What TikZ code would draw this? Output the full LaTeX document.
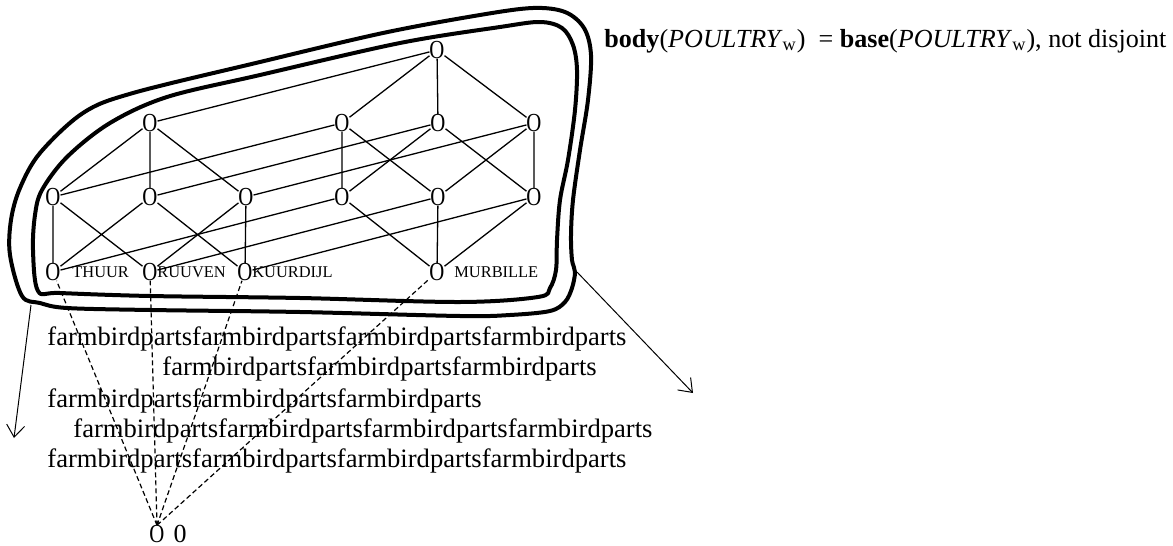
\documentclass[tikz,border=0pt]{standalone}
\usepackage{fontspec}
\setmainfont{Liberation Serif}
\usepackage{graphicx}
\usetikzlibrary{arrows.meta}
\newcommand{\vO}{\scalebox{0.8}[1]{O}}
\tikzset{
  vert/.style={inner sep=0pt, outer sep=0pt, font=\fontsize{13}{13}\selectfont},
  lab/.style={anchor=base west, inner sep=0pt, font=\fontsize{8.2}{9}\selectfont},
  edgeline/.style={line width=0.65pt},
  dashline/.style={line width=0.6pt, dash pattern=on 2.5pt off 1.5pt},
  blob/.style={line width=2pt, line join=round},
  arr/.style={line width=0.5pt, -{Straight Barb[length=6pt,width=9pt]}},
  txt/.style={anchor=base west, inner sep=0pt, font=\fontsize{13.3}{16}\selectfont},
}
\begin{document}
\begin{tikzpicture}[x=0.5pt, y=-0.5pt]
\useasboundingbox (0,0) rectangle (1173,546);
% blobs
\draw[blob] plot[smooth cycle, tension=0.55] coordinates {
 (22,296) (10,255) (11,220) (20,188) (40,153) (83,113) (133,93) (260,62) (383,33)
 (480,15) (533,8) (565,12) (584,28) (591,55) (588,100) (580,150) (573,200) (571,235)
 (572,260) (575,272) (572,288) (565,302) (550,311) (510,315) (460,316) (300,312)
 (150,310) (67,308) (40,303)};
\draw[blob] plot[smooth cycle, tension=0.55] coordinates {
 (38,291) (33,250) (35,215) (42,190) (67,157) (110,123) (167,97) (260,75) (400,43)
 (500,27) (540,22) (562,28) (573,45) (577,70) (575,110) (568,160) (560,200) (557,240)
 (556,270) (550,288) (538,297) (460,302) (300,298) (150,296) (60,293)};
% vertices
\node[vert] (t) at (437,50) {\vO};
\node[vert] (a2) at (150,123) {\vO};
\node[vert] (b2) at (342,123) {\vO};
\node[vert] (c2) at (438,123) {\vO};
\node[vert] (d2) at (534,123) {\vO};
\node[vert] (a3) at (53,197) {\vO};
\node[vert] (b3) at (150,197) {\vO};
\node[vert] (c3) at (246,197) {\vO};
\node[vert] (d3) at (342,197) {\vO};
\node[vert] (e3) at (438,197) {\vO};
\node[vert] (f3) at (534,197) {\vO};
\node[vert] (T) at (53,272) {\vO};
\node[vert] (R) at (150,272) {\vO};
\node[vert] (K) at (245,272) {\vO};
\node[vert] (M) at (437,272) {\vO};
\node[vert] (Z) at (157,534) {\vO};
\node[vert] (zl) at (180,534) {0};
% labels
\node[lab] (lT) at (72,277) {THUUR};
\node[lab] (lR) at (157,277) {RUUVEN};
\node[lab] (lK) at (252,277) {KUURDIJL};
\node[lab] (lM) at (454,277) {MURBILLE};
% lattice edges
\draw[edgeline] (t) -- (a2) (t) -- (b2) (t) -- (c2) (t) -- (d2);
\draw[edgeline] (a2) -- (a3) (a2) -- (b3) (a2) -- (c3);
\draw[edgeline] (b2) -- (d3) (b2) -- (e3) (c2) -- (d3) (c2) -- (f3) (d2) -- (e3) (d2) -- (f3);
\draw[edgeline] (a3) -- (b2) (b3) -- (c2) (c3) -- (d2);
\draw[edgeline] (a3) -- (T) (a3) -- (R) (b3) -- (T) (b3) -- (K) (c3) -- (R) (c3) -- (K);
\draw[edgeline] (d3) -- (M) (e3) -- (M) (f3) -- (M);
\draw[edgeline] (T) -- (d3) (R) -- (e3) (K) -- (f3);
% dashed
\draw[dashline] (Z.north) -- (T) (Z.north) -- (R) (Z.north) -- (K) (Z.north) -- (M);
% arrows
\coordinate (la1) at (31,305);
\coordinate (la2) at (14,438);
\coordinate (ra1) at (577,272);
\coordinate (ra2) at (693,393);
\draw[arr] (la1) -- (la2);
\draw[arr] (ra1) -- (ra2);
% texts
\node[anchor=base west, inner sep=0pt, font=\fontsize{13.05}{15}\selectfont] (title) at (604,47)
 {\textbf{body}(\textit{POULTRY}\textsubscript{w})\ \ = \textbf{base}(\textit{POULTRY}\textsubscript{w}), not disjoint};
\node[txt] (l1) at (47,345) {farmbirdpartsfarmbirdpartsfarmbirdpartsfarmbirdparts};
\node[txt] (l2) at (162,375) {farmbirdpartsfarmbirdpartsfarmbirdparts};
\node[txt] (l3) at (47,407) {farmbirdpartsfarmbirdpartsfarmbirdparts};
\node[txt] (l4) at (73,437) {farmbirdpartsfarmbirdpartsfarmbirdpartsfarmbirdparts};
\node[txt] (l5) at (47,467) {farmbirdpartsfarmbirdpartsfarmbirdpartsfarmbirdparts};
\end{tikzpicture}
\end{document}
